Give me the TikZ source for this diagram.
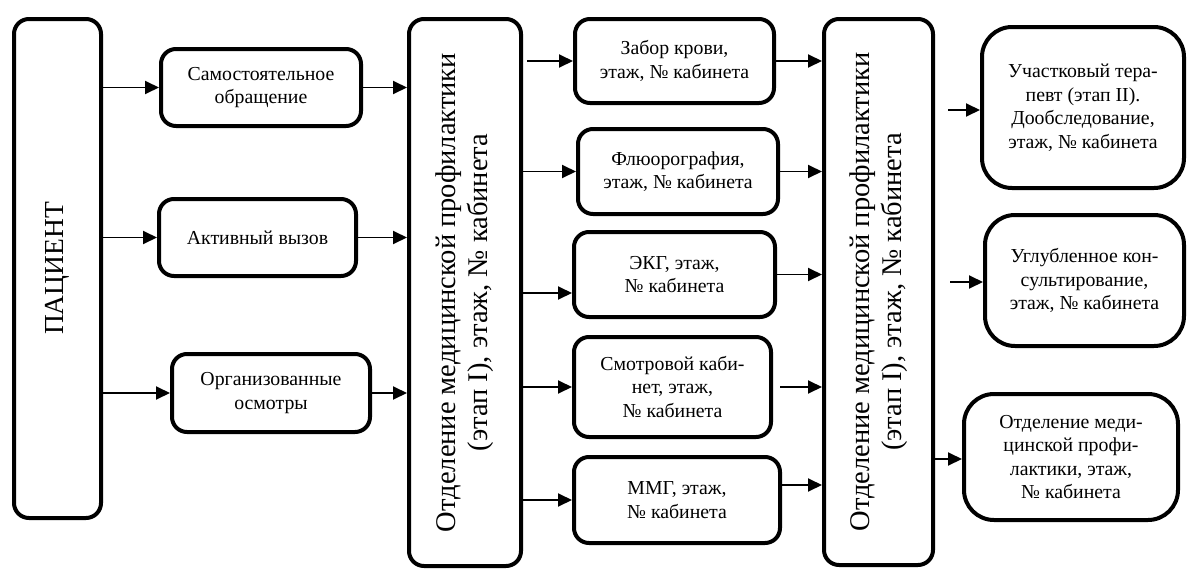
\documentclass[tikz,border=0pt]{standalone}
\usepackage{fontspec}
\setmainfont{Liberation Serif}
\usetikzlibrary{arrows.meta,calc}
\begin{document}
\begin{tikzpicture}[x=1pt,y=-1pt,
  box/.style={draw, line width=4pt, rounded corners=15pt, align=center, inner sep=0pt,
    font=\fontsize{19.8}{23.5}\selectfont},
  rbox/.style={box, rounded corners=30pt},
  arr/.style={line width=1.9pt, -{Triangle[length=14pt,width=13pt]}},
  bigtext/.style={rotate=90, align=center, inner sep=0pt, font=\fontsize{28.5}{32}\selectfont}]
\useasboundingbox (0,0) rectangle (1189,570);
% left column
\node[box, minimum width=87pt, minimum height=499pt] (pat) at (57.5,268.5) {};
\node[bigtext, font=\fontsize{27.5}{31}\selectfont] (patt) at (pat.center) {ПАЦИЕНТ};
\node[box, minimum width=200pt, minimum height=77pt] (self) at (261,87.5) {Самостоятельное\\обращение};
\node[box, minimum width=197pt, minimum height=77pt] (act) at (257.5,237.5) {Активный вызов};
\node[box, minimum width=198pt, minimum height=78pt] (org) at (271,393) {Организованные\\осмотры};
% big box 1
\node[box, minimum width=112pt, minimum height=547pt] (big1) at (465,292.5) {};
\node[bigtext] (big1t) at (big1.center) {Отделение медицинской профилактики\\(этап I), этаж, № кабинета};
% middle column
\node[box, minimum width=199pt, minimum height=84pt] (zab) at (674.5,61) {Забор крови,\\этаж, № кабинета};
\node[box, minimum width=200pt, minimum height=85pt] (flu) at (678,171.5) {Флюорография,\\этаж, № кабинета};
\node[box, minimum width=201pt, minimum height=85pt] (ekg) at (674.5,274.5) {ЭКГ, этаж,\\№ кабинета};
\node[box, minimum width=197pt, minimum height=100pt] (smo) at (672.5,387) {Смотровой каби-\\нет, этаж,\\№ кабинета};
\node[box, minimum width=206pt, minimum height=86pt] (mmg) at (677,500) {ММГ, этаж,\\№ кабинета};
% big box 2
\node[box, minimum width=109pt, minimum height=546pt] (big2) at (878.5,292) {};
\node[bigtext] (big2t) at (big2.center) {Отделение медицинской профилактики\\(этап I), этаж, № кабинета};
% right column
\node[rbox, minimum width=202pt, minimum height=161pt] (uch) at (1083,107.5) {Участковый тера-\\певт (этап II).\\Дообследование,\\этаж, № кабинета};
\node[rbox, minimum width=199pt, minimum height=131pt] (ugl) at (1084.5,280.5) {Углубленное кон-\\сультирование,\\этаж, № кабинета};
\node[rbox, minimum width=214pt, minimum height=126pt] (otd) at (1071,457) {Отделение меди-\\цинской профи-\\лактики, этаж,\\№ кабинета};
% helper coordinates
\coordinate (yekg) at (0,293);
\coordinate (ymmg) at (0,485);
\coordinate (yuch) at (0,110);
\coordinate (yugl) at (0,282);
\coordinate (yotd) at (0,459);
% arrows patient -> sources
\draw[arr] (pat.east |- self.west) -- (self.west);
\draw[arr] (pat.east |- act.west) -- (act.west);
\draw[arr] (pat.east |- org.west) -- (org.west);
% sources -> big1
\draw[arr] (self.east) -- (self.east -| big1.west);
\draw[arr] (act.east) -- (act.east -| big1.west);
\draw[arr] (org.east) -- (org.east -| big1.west);
% big1 -> middle
\draw[arr] ([xshift=4pt]big1.east |- zab.west) -- (zab.west);
\draw[arr] (big1.east |- flu.west) -- (flu.west);
\draw[arr] (big1.east |- yekg) -- (ekg.west |- yekg);
\draw[arr] (big1.east |- smo.west) -- (smo.west);
\draw[arr] ([xshift=-4pt]big1.east |- mmg.west) -- (mmg.west);
% middle -> big2
\draw[arr] (zab.east) -- (zab.east -| big2.west);
\draw[arr] (flu.east) -- (flu.east -| big2.west);
\draw[arr] (ekg.east) -- (ekg.east -| big2.west);
\draw[arr] ([xshift=7pt]smo.east) -- (smo.east -| big2.west);
\draw[arr] (mmg.east |- ymmg) -- (big2.west |- ymmg);
% big2 -> right
\draw[arr] ([xshift=13pt]big2.east |- yuch) -- (uch.west |- yuch);
\draw[arr] ([xshift=15pt]big2.east |- yugl) -- (ugl.west |- yugl);
\draw[arr] (big2.east |- yotd) -- (otd.west |- yotd);
\end{tikzpicture}
\end{document}
